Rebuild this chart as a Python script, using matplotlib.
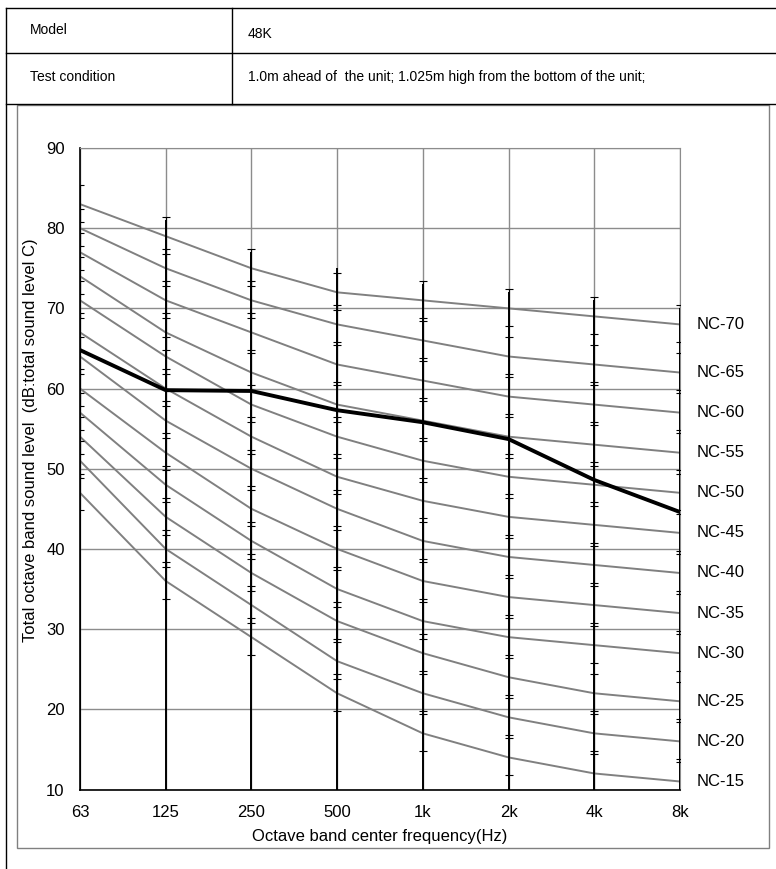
import matplotlib.pyplot as plt
import numpy as np

plt.rcParams['font.family'] = ['Liberation Sans', 'DejaVu Sans']

W, H = 776, 869

freqs = ['63', '125', '250', '500', '1k', '2k', '4k', '8k']

# NC curves, dB at each octave band
nc_15 = [47, 36, 29, 22, 17, 14, 12, 11]
nc_20 = [51, 40, 33, 26, 22, 19, 17, 16]
nc_25 = [54, 44, 37, 31, 27, 24, 22, 21]
nc_30 = [57, 48, 41, 35, 31, 29, 28, 27]
nc_35 = [60, 52, 45, 40, 36, 34, 33, 32]
nc_40 = [64, 56, 50, 45, 41, 39, 38, 37]
nc_45 = [67, 60, 54, 49, 46, 44, 43, 42]
nc_50 = [71, 64, 58, 54, 51, 49, 48, 47]
nc_55 = [74, 67, 62, 58, 56, 54, 53, 52]
nc_60 = [77, 71, 67, 63, 61, 59, 58, 57]
nc_65 = [80, 75, 71, 68, 66, 64, 63, 62]
nc_70 = [83, 79, 75, 72, 71, 70, 69, 68]
nc_names = ['NC-15', 'NC-20', 'NC-25', 'NC-30', 'NC-35', 'NC-40',
            'NC-45', 'NC-50', 'NC-55', 'NC-60', 'NC-65', 'NC-70']
nc_curves = [nc_15, nc_20, nc_25, nc_30, nc_35, nc_40,
             nc_45, nc_50, nc_55, nc_60, nc_65, nc_70]

# measured unit (48K)
measured = [64.8, 59.8, 59.7, 57.3, 55.8, 53.7, 48.6, 44.6]

# black drop lines top and the small tolerance marks
drop_top = [85, 81, 77, 75, 73, 72, 71, 70]
err_low = 2.2
err_high = 2.4

model = '48K'
condition = '1.0m ahead of  the unit; 1.025m high from the bottom of the unit;'

fig = plt.figure(figsize=(W / 100, H / 100), dpi=100)

# background: table lines and frame, pixel coords
bg = fig.add_axes([0, 0, 1, 1])
bg.set_xlim(0, W)
bg.set_ylim(H, 0)
bg.axis('off')
for y in [8, 53, 104]:
    bg.plot([6, W], [y, y], color='black', lw=1)
bg.plot([6, 6], [8, H], color='black', lw=1)
bg.plot([232, 232], [8, 104], color='black', lw=1)
bg.add_patch(plt.Rectangle((17, 105), 752, 743, fill=True, facecolor='white',
                           edgecolor='#808080', lw=1))
bg.text(30, 30, 'Model', fontsize=10, va='center', ha='left')
bg.text(248, 34, model, fontsize=10, va='center', ha='left')
bg.text(30, 77, 'Test condition', fontsize=10, va='center', ha='left')
bg.text(248, 77, condition, fontsize=10, va='center', ha='left')

ax = fig.add_axes([80 / W, 1 - 789.5 / H, 600 / W, 641.5 / H])
X = np.arange(len(freqs))

for vals in nc_curves:
    ax.plot(X, vals, color='#808080', lw=1.4, zorder=2)
    ax.errorbar(X, vals, yerr=[[err_low] * len(X), [err_high] * len(X)],
                fmt='none', ecolor='black', elinewidth=0.8, capsize=3,
                capthick=0.8, zorder=3)

ax.vlines(X, 10, drop_top, color='black', lw=1.4, zorder=3)
ax.plot(X, measured, color='black', lw=2.8, zorder=4)

for name, vals in zip(nc_names, nc_curves):
    ax.annotate(name, (X[-1], vals[-1]), xytext=(12, 0),
                textcoords='offset points', va='center', ha='left',
                fontsize=12, annotation_clip=False)

ax.set_xlim(0, 7)
ax.set_ylim(10, 90)
ax.set_xticks(X, freqs)
ax.set_yticks(range(10, 91, 10))
ax.tick_params(length=0, pad=11, labelsize=12)
ax.grid(True, color='#8c8c8c', lw=1)
ax.set_axisbelow(True)
for s in ['top', 'right']:
    ax.spines[s].set_color('#8c8c8c')
for s in ['left', 'bottom']:
    ax.spines[s].set_color('black')
    ax.spines[s].set_linewidth(1.2)

ax.set_xlabel('Octave band center frequency(Hz)', fontsize=12, labelpad=7)
ax.set_ylabel('Total octave band sound level  (dB:total sound level C)',
              fontsize=12)
ax.yaxis.set_label_coords(-0.07, 0.545)

fig.savefig('out.png', dpi=100)
